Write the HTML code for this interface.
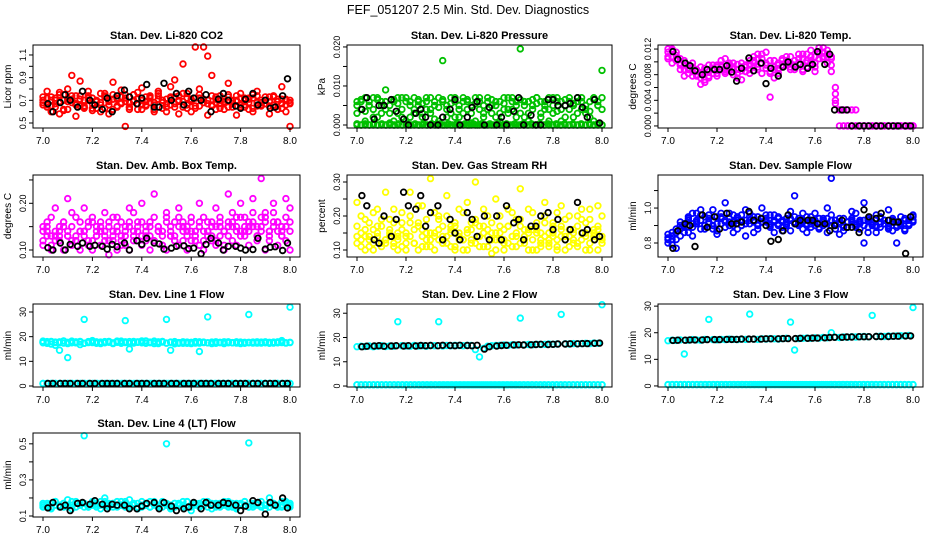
<!DOCTYPE html>
<html><head><meta charset="utf-8"><style>
html,body{margin:0;padding:0;background:#fff;}
svg{display:block;font-family:"Liberation Sans",sans-serif;}
</style></head><body>
<svg id="chart" width="936" height="540">
<text x="468" y="14" text-anchor="middle" font-size="12.5">FEF_051207  2.5 Min. Std. Dev. Diagnostics</text>
</svg>
<script>
// ---- shared data ----
const xTicks = [7.0,7.2,7.4,7.6,7.8,8.0];
const blackX = [7.02,7.04,7.07,7.09,7.11,7.14,7.16,7.19,7.21,7.24,7.26,7.28,7.30,7.33,7.35,7.38,7.40,7.42,7.45,7.47,7.49,7.52,7.54,7.57,7.59,7.61,7.64,7.66,7.68,7.71,7.73,7.75,7.78,7.80,7.82,7.85,7.87,7.90,7.92,7.94,7.97,7.99];
// CO2
const co2A = [0.66,0.78,0.60,0.72,0.58,0.70,0.80,0.92,0.56,0.87,0.64,0.74,0.61,0.69,0.76,0.63,0.58,0.86,0.71,0.79,0.47,0.68,0.75,0.62,0.81,0.66,0.73,0.60,0.78,0.70,0.64,0.82,0.88,0.58,1.02,0.72,0.60,1.17,0.80,1.17,0.57,0.92,0.68,0.74,0.62,0.85,0.70,0.57,0.76,0.64,0.72,0.60,0.78,0.66,0.70,0.58,0.74,0.62,0.82,0.60,0.47];
const co2B = [0.70,0.66,0.73,0.64,0.69,0.75,0.62,0.71,0.67,0.74,0.65,0.70,0.72,0.63,0.68,0.76,0.66,0.71,0.64,0.73,0.69,0.62,0.75,0.67,0.70,0.65,0.72,0.68,0.74,0.63,0.71,0.66,0.73,0.69,0.64,0.76,0.70,0.65,0.72,0.68,1.09,0.66,0.71,0.63,0.69,0.73,0.67,0.70,0.64,0.72,0.68,0.75,0.65,0.70,0.67,0.73,0.64,0.69,0.71,0.66,0.68];
const co2C = [0.68,0.72,0.65,0.70,0.77,0.61,0.69,0.74,0.66,0.71,0.63,0.78,0.67,0.70,0.60,0.73,0.69,0.75,0.65,0.68,0.72,0.64,0.70,0.77,0.62,0.69,0.74,0.66,0.71,0.68,0.60,0.73,0.67,0.70,0.76,0.63,0.69,0.72,0.65,0.71,0.67,0.74,0.62,0.70,0.68,0.75,0.64,0.69,0.72,0.66,0.71,0.63,0.74,0.68,0.70,0.65,0.73,0.69,0.67,0.71,0.70];
const co2D = [0.73,0.64,0.70,0.67,0.75,0.62,0.71,0.68,0.74,0.65,0.70,0.72,0.63,0.69,0.66,0.74,0.70,0.62,0.72,0.67,0.75,0.64,0.69,0.71,0.66,0.73,0.68,0.62,0.76,0.70,0.67,0.72,0.64,0.74,0.69,0.66,0.71,0.63,0.75,0.68,0.70,0.65,0.73,0.67,0.71,0.64,0.69,0.74,0.66,0.70,0.62,0.72,0.68,0.65,0.73,0.69,0.66,0.71,0.63,0.70,0.67];
const co2K = [0.67,0.60,0.68,0.75,0.70,0.64,0.78,0.70,0.66,0.62,0.72,0.60,0.74,0.79,0.73,0.67,0.72,0.84,0.64,0.64,0.85,0.70,0.76,0.66,0.78,0.72,0.70,0.75,0.60,0.71,0.76,0.70,0.65,0.63,0.71,0.76,0.66,0.70,0.63,0.64,0.74,0.89];
// Pressure
const presA = [0,0,0,0,0,0,0,0,0,0,0,0,0,0,0,0,0,0,0,0,0,0,0,0,0,0,0,0,0,0,0,0,0,0,0,0,0,0,0,0,0,0,0,0,0,0,0,0,0,0,0,0,0,0,0,0,0,0,0,0,0];
const presE = [0.0003,0,0.0003,0,0.0003,0,0.0003,0,0.0003,0,0.0003,0,0.0003,0,0.0003,0,0.0003,0,0.0003,0,0.0003,0,0.0003,0,0.0003,0,0.0003,0,0.0003,0,0.0003,0,0.0003,0,0.0003,0,0.0003,0,0.0003,0,0.0003,0,0.0003,0,0.0003,0,0.0003,0,0.0003,0,0.0003,0,0.0003,0,0.0003,0,0.0003,0,0.0003,0];
const presB = [0.006,0.004,0.007,0.005,0.002,0.0065,0.003,0.009,0.005,0.001,0.007,0.004,0.006,0.002,0.007,0.005,0.003,0.006,0.004,0.0015,0.007,0.0165,0.005,0.003,0.006,0.002,0.007,0.004,0.005,0.001,0.006,0.003,0.007,0.005,0.002,0.006,0.004,0.003,0.007,0.005,0.0195,0.002,0.006,0.004,0.007,0.003,0.005,0.001,0.007,0.006,0.004,0.002,0.007,0.005,0.003,0.006,0.004,0.002,0.007,0.005,0.014];
const presC = [0.003,0.006,0.001,0.005,0.007,0.002,0.006,0.004,0.0005,0.006,0.003,0.007,0.001,0.005,0.004,0.006,0.002,0.007,0.003,0.005,0.001,0.006,0.004,0.007,0.002,0.005,0.003,0.006,0.0005,0.007,0.004,0.002,0.006,0.003,0.005,0.001,0.007,0.004,0.006,0.002,0.003,0.006,0.001,0.005,0.007,0.002,0.006,0.004,0.003,0.007,0.001,0.005,0.006,0.002,0.007,0.004,0.003,0.006,0.001,0.005,0.004];
const presD = [0.005,0.0065,0.0035,0.006,0.004,0.007,0.005,0.006,0.003,0.0065,0.0055,0.002,0.007,0.006,0.003,0.0065,0.0055,0.004,0.007,0.006,0.0045,0.0065,0.002,0.0055,0.007,0.004,0.006,0.0065,0.003,0.0055,0.007,0.005,0.004,0.0065,0.006,0.003,0.0055,0.007,0.004,0.006,0.0065,0.005,0.003,0.0065,0.0055,0.006,0.004,0.007,0.005,0.0035,0.006,0.0065,0.004,0.0055,0.006,0.007,0.005,0.0035,0.0065,0.006,0.007];
const presK = [0.004,0.007,0.0015,0.005,0.005,0.0065,0.0035,0.0015,0,0.003,0.004,0.002,0,0,0.002,0.004,0.0065,0,0.002,0.0045,0.006,0,0.0045,0,0.002,0,0.0035,0.007,0,0.0025,0,0,0.0065,0.0065,0.005,0.005,0.0055,0.007,0.0045,0.002,0.0065,0.0005];
// Li-820 temp
const tempA = [0.0115,0.012,0.011,0.0105,0.0095,0.009,0.0085,0.008,0.0075,0.0068,0.0085,0.009,0.0095,0.0088,0.0105,0.0095,0.008,0.0088,0.0092,0.0085,0.0102,0.0098,0.0112,0.0105,0.009,0.0085,0.0075,0.0095,0.0102,0.0098,0.0108,0.0095,0.0112,0.0105,0.0092,0.0118,0.0108,0.0122,0.0115,0.0118,0.0085,0.005,0.0025,0.0025,0.0025,0.0025,0.0025,0,0,0,0,0,0,0,0,0,0,0,0,0,0];
const tempB = [0.0105,0.0108,0.0115,0.0095,0.0102,0.0088,0.0098,0.0078,0.0092,0.0082,0.0075,0.0095,0.0082,0.0102,0.0088,0.0092,0.0098,0.0082,0.0072,0.0095,0.0088,0.0108,0.0092,0.0098,0.0115,0.0082,0.0102,0.0088,0.0095,0.0108,0.0092,0.0102,0.0098,0.0088,0.0112,0.0098,0.0092,0.0105,0.0122,0.0108,0.0095,0.0035,0,0,0,0,0,0,0,0,0,0,0,0,0,0,0,0,0,0,0];
const tempC = [0.012,0.0098,0.0105,0.0088,0.0078,0.0082,0.0092,0.0088,0.0065,0.0072,0.0095,0.0082,0.0078,0.0092,0.0085,0.0098,0.0088,0.0075,0.0098,0.0085,0.0095,0.0102,0.0088,0.0082,0.0098,0.0045,0.0092,0.0082,0.0105,0.0095,0.0088,0.0092,0.0105,0.0085,0.0098,0.0102,0.0085,0.0112,0.0105,0.0098,0.0105,0.006,0.0025,0.0025,0,0,0,0,0,0,0,0,0,0,0,0,0,0,0,0,0];
const tempD = [0.0108,0.0118,0.0102,0.0098,0.0088,0.0095,0.0078,0.0085,0.0082,0.0090,0.0078,0.0088,0.0092,0.0095,0.0082,0.0088,0.0092,0.0096,0.0086,0.0092,0.0082,0.0092,0.0105,0.0112,0.0095,0.0102,0.0088,0.0098,0.0092,0.0102,0.0098,0.0088,0.0098,0.0112,0.0102,0.0108,0.0098,0.0115,0.0108,0.0112,0.0108,0.0040,0.0025,0,0,0,0,0,0,0,0,0,0,0,0,0,0,0,0,0,0];
const tempK = [0.0116,0.0104,0.0098,0.0094,0.0086,0.0080,0.0088,0.0088,0.0088,0.0094,0.0084,0.0070,0.0090,0.0106,0.0086,0.0098,0.0066,0.0090,0.0078,0.0092,0.0100,0.0092,0.0096,0.0090,0.0096,0.0116,0.0096,0.0112,0.0025,0.0025,0.0025,0,0,0,0,0,0,0,0,0,0,0];
// Amb box temp
const ambA = [0.14,0.16,0.11,0.19,0.13,0.15,0.21,0.12,0.17,0.14,0.19,0.11,0.16,0.13,0.15,0.18,0.12,0.14,0.17,0.11,0.15,0.19,0.13,0.16,0.20,0.12,0.15,0.22,0.14,0.11,0.18,0.13,0.16,0.19,0.12,0.15,0.17,0.14,0.20,0.12,0.16,0.13,0.19,0.15,0.11,0.22,0.16,0.14,0.20,0.17,0.15,0.21,0.13,0.253,0.18,0.14,0.20,0.16,0.13,0.21,0.19];
const ambB = [0.11,0.13,0.10,0.12,0.14,0.10,0.13,0.11,0.12,0.10,0.14,0.12,0.10,0.13,0.11,0.14,0.09,0.12,0.10,0.13,0.11,0.10,0.14,0.12,0.11,0.13,0.10,0.12,0.14,0.11,0.10,0.13,0.12,0.11,0.14,0.10,0.12,0.13,0.11,0.10,0.14,0.12,0.11,0.13,0.10,0.15,0.12,0.11,0.14,0.13,0.11,0.15,0.12,0.14,0.10,0.13,0.15,0.11,0.14,0.12,0.10];
const ambC = [0.15,0.14,0.17,0.13,0.15,0.16,0.14,0.18,0.13,0.16,0.14,0.15,0.17,0.14,0.16,0.13,0.15,0.17,0.14,0.16,0.13,0.15,0.18,0.14,0.16,0.15,0.13,0.17,0.15,0.14,0.16,0.15,0.13,0.17,0.15,0.14,0.16,0.13,0.15,0.17,0.14,0.16,0.15,0.17,0.14,0.16,0.18,0.15,0.17,0.14,0.16,0.18,0.15,0.17,0.16,0.14,0.18,0.16,0.15,0.17,0.16];
const ambD = [0.12,0.15,0.13,0.14,0.12,0.16,0.13,0.15,0.12,0.14,0.13,0.16,0.12,0.15,0.14,0.12,0.16,0.13,0.15,0.12,0.14,0.16,0.12,0.15,0.13,0.14,0.16,0.12,0.15,0.13,0.17,0.14,0.12,0.15,0.16,0.13,0.14,0.12,0.16,0.14,0.13,0.15,0.12,0.16,0.14,0.13,0.15,0.17,0.13,0.15,0.14,0.16,0.13,0.15,0.17,0.12,0.16,0.14,0.13,0.15,0.14];
const ambK = [0.105,0.100,0.115,0.100,0.112,0.108,0.115,0.108,0.110,0.108,0.102,0.112,0.107,0.115,0.100,0.120,0.112,0.125,0.115,0.113,0.102,0.104,0.108,0.109,0.103,0.104,0.092,0.112,0.125,0.115,0.100,0.108,0.108,0.104,0.100,0.101,0.125,0.102,0.106,0.107,0.099,0.115];
// Gas stream RH
const rhA = [0.24,0.13,0.19,0.11,0.16,0.22,0.12,0.27,0.14,0.18,0.10,0.21,0.15,0.27,0.12,0.17,0.23,0.11,0.31,0.14,0.19,0.12,0.26,0.16,0.10,0.22,0.13,0.24,0.18,0.30,0.11,0.15,0.20,0.13,0.25,0.17,0.10,0.22,0.14,0.19,0.28,0.12,0.16,0.21,0.10,0.15,0.24,0.13,0.18,0.11,0.23,0.14,0.20,0.12,0.17,0.22,0.10,0.19,0.15,0.23,0.13];
const rhB = [0.12,0.15,0.10,0.14,0.12,0.17,0.11,0.13,0.19,0.12,0.15,0.11,0.14,0.18,0.12,0.10,0.16,0.13,0.11,0.15,0.20,0.12,0.14,0.11,0.17,0.13,0.10,0.15,0.12,0.18,0.14,0.11,0.16,0.09,0.13,0.15,0.12,0.17,0.11,0.14,0.12,0.16,0.10,0.13,0.15,0.11,0.18,0.12,0.14,0.10,0.16,0.13,0.11,0.15,0.12,0.19,0.14,0.10,0.13,0.16,0.12];
const rhC = [0.17,0.20,0.14,0.18,0.21,0.15,0.19,0.13,0.16,0.22,0.14,0.18,0.12,0.20,0.16,0.23,0.14,0.19,0.15,0.21,0.13,0.17,0.20,0.15,0.18,0.14,0.21,0.16,0.13,0.19,0.17,0.22,0.14,0.18,0.15,0.20,0.13,0.17,0.21,0.15,0.19,0.14,0.22,0.16,0.18,0.13,0.20,0.15,0.17,0.21,0.14,0.19,0.16,0.13,0.20,0.15,0.18,0.22,0.14,0.17,0.20];
const rhD = [0.14,0.11,0.16,0.13,0.10,0.14,0.17,0.12,0.15,0.11,0.13,0.16,0.10,0.14,0.12,0.18,0.11,0.15,0.13,0.10,0.16,0.14,0.12,0.17,0.11,0.15,0.13,0.10,0.16,0.12,0.14,0.17,0.11,0.15,0.10,0.13,0.16,0.12,0.14,0.11,0.17,0.13,0.15,0.10,0.16,0.12,0.14,0.11,0.15,0.13,0.17,0.10,0.14,0.16,0.11,0.13,0.15,0.12,0.16,0.10,0.14];
const rhK = [0.26,0.23,0.13,0.12,0.20,0.14,0.19,0.27,0.23,0.22,0.26,0.17,0.21,0.23,0.13,0.19,0.15,0.13,0.21,0.19,0.14,0.20,0.13,0.20,0.13,0.23,0.18,0.19,0.13,0.17,0.17,0.20,0.21,0.16,0.19,0.13,0.16,0.24,0.15,0.16,0.13,0.14];
// Sample flow
const flowA = [0.80,0.84,0.82,0.88,0.90,0.86,0.97,0.92,0.88,0.95,0.91,0.99,0.87,0.94,1.03,0.90,0.96,0.88,0.93,0.99,0.91,0.86,0.95,1.00,0.92,0.89,0.96,0.91,0.87,0.94,0.98,1.07,0.92,0.88,0.95,0.91,0.97,0.89,0.93,1.00,1.17,0.90,0.94,0.87,0.92,0.98,0.89,0.93,1.03,0.86,0.91,0.96,0.89,0.93,0.99,0.87,0.92,0.95,0.88,0.91,0.95];
const flowB = [0.83,0.79,0.86,0.84,0.91,0.94,0.89,0.93,0.96,0.90,0.92,0.88,0.95,0.91,0.93,0.97,0.92,0.94,0.90,0.93,0.95,0.92,0.91,0.94,0.93,0.96,0.92,0.90,0.93,0.91,0.94,0.92,0.90,0.93,0.91,0.89,0.92,0.94,0.90,0.91,0.93,0.88,0.92,0.90,0.89,0.93,0.91,0.92,0.90,0.94,0.92,0.89,0.91,0.93,0.90,0.92,0.89,0.91,0.93,0.90,0.92];
const flowC = [0.85,0.82,0.77,0.90,0.86,0.93,0.84,0.91,0.99,0.88,0.94,0.90,0.85,0.97,0.89,0.92,0.86,0.95,0.90,0.84,0.97,0.93,0.88,0.92,0.96,0.90,0.86,0.94,0.89,0.92,0.87,0.95,0.91,0.97,0.86,0.93,0.90,0.88,0.94,0.86,0.96,0.91,0.85,0.94,0.89,0.92,0.97,0.88,0.80,0.93,0.90,0.86,0.95,0.91,0.88,0.94,0.80,0.90,0.87,0.93,0.96];
const flowD = [0.82,0.86,0.88,0.92,0.89,0.95,0.91,0.97,0.93,0.90,0.96,0.93,0.91,0.95,0.92,0.94,0.90,0.93,0.96,0.91,0.93,0.95,0.90,0.92,0.94,0.91,0.93,0.95,0.92,0.90,0.93,0.91,0.94,0.92,0.90,0.95,0.93,0.91,0.92,0.94,0.90,0.93,0.91,0.89,0.92,0.94,0.90,0.91,0.93,0.89,0.92,0.90,0.94,0.91,0.89,0.93,0.90,0.92,0.94,0.91,0.93];
const flowK = [0.77,0.87,0.91,0.90,0.78,0.96,0.89,0.95,0.88,0.97,0.91,0.91,0.92,0.98,0.93,0.94,0.90,0.81,0.82,0.87,0.96,0.91,0.93,0.93,0.93,0.91,0.91,0.87,0.90,0.93,0.89,0.89,0.86,0.99,0.95,0.94,0.97,0.93,0.92,0.92,0.74,0.95];
// Line 1
const l1A = [17.5,18,17,17.8,14.5,18.2,11.5,17.5,17.9,16.8,27,17.6,18.1,17.3,17.8,17.5,18,17.2,17.7,18.2,26.5,15,17.6,17.9,18.3,17.5,17.8,17.2,17.9,18.1,27,14.5,17.6,17.3,17.8,17.5,17.2,17.9,14,17.6,28,17.4,17.8,17.6,17.2,17.9,17.5,17.8,17.6,17.3,29,17.6,17.9,17.4,17.7,17.5,17.8,17.6,18.4,17.5,32];
const l1B = [18.2,17.4,17.9,16.5,17.6,18.3,17.2,17.8,17.5,18.1,17.3,17.7,18.4,17.6,17.2,18,17.7,17.4,18.2,17.6,17.9,17.3,18.1,17.7,17.5,18.3,17.6,17.9,17.2,18,17.4,17.8,17.1,17.6,17.9,17.3,17.7,18,17.4,17.8,17.5,17.2,17.9,17.6,17.3,17.8,17.5,17.9,17.2,17.7,17.5,17.8,17.4,17.6,17.9,17.3,17.7,17.5,18,17.4,17.6];
const l1C = [17.8,17.3,18.1,17.6,17.9,17.4,17.7,18.2,17.5,17.8,17.3,18,17.6,17.9,17.4,17.7,18.1,17.5,17.8,17.3,17.6,18,17.4,17.7,17.9,17.3,17.6,18.2,17.5,17.8,17.4,17.7,18,17.5,17.3,17.8,17.6,17.4,17.9,17.7,17.5,17.8,17.3,17.7,17.9,17.5,17.6,17.4,17.8,17.5,17.7,17.4,17.6,17.8,17.5,17.7,17.4,17.9,17.6,17.5,17.7];
const l1Base = [1,1,1,1,1,1,1,1,1,1,1,1,1,1,1,1,1,1,1,1,1,1,1,1,1,1,1,1,1,1,1,1,1,1,1,1,1,1,1,1,1,1,1,1,1,1,1,1,1,1,1,1,1,1,1,1,1,1,1,1,1];
const l1Base2 = [1,1,1,1,1,1,1,1,1,1,1,1,1,1,1,1,1,1,1,1,1,1,1,1,1,1,1,1,1,1,1,1,1,1,1,1,1,1,1,1,1,1,1,1,1,1,1,1,1,1,1,1,1,1,1,1,1,1,1,1];
const l1K = [1,1,1,1,1,1,1,1,1,1,1,1,1,1,1,1,1,1,1,1,1,1,1,1,1,1,1,1,1,1,1,1,1,1,1,1,1,1,1,1,1,1];
// Line 2
const l2A = [16.2,16.4,16.3,16.5,16.2,16.4,16.6,16.3,16.5,16.4,26.5,16.6,16.5,16.4,16.7,16.5,16.6,16.4,16.7,16.6,26.5,16.5,16.7,16.6,16.8,16.7,16.6,16.8,16.7,15,12,15.5,16.4,16.6,16.7,16.8,16.9,16.8,17,16.9,28,17,17.1,17,17.2,17.1,17.2,17.3,17.2,17.3,29.5,17.4,17.3,17.5,17.4,17.5,17.6,17.5,17.7,17.6,33.5];
const l2Base = [0.5,0.5,0.5,0.5,0.5,0.5,0.5,0.5,0.5,0.5,0.5,0.5,0.5,0.5,0.5,0.5,0.5,0.5,0.5,0.5,0.5,0.5,0.5,0.5,0.5,0.5,0.5,0.5,0.5,0.5,0.5,0.5,0.5,0.5,0.5,0.5,0.5,0.5,0.5,0.5,0.5,0.5,0.5,0.5,0.5,0.5,0.5,0.5,0.5,0.5,0.5,0.5,0.5,0.5,0.5,0.5,0.5,0.5,0.5,0.5,0.5];
const l2Base2 = [0.5,0.5,0.5,0.5,0.5,0.5,0.5,0.5,0.5,0.5,0.5,0.5,0.5,0.5,0.5,0.5,0.5,0.5,0.5,0.5,0.5,0.5,0.5,0.5,0.5,0.5,0.5,0.5,0.5,0.5,0.5,0.5,0.5,0.5,0.5,0.5,0.5,0.5,0.5,0.5,0.5,0.5,0.5,0.5,0.5,0.5,0.5,0.5,0.5,0.5,0.5,0.5,0.5,0.5,0.5,0.5,0.5,0.5,0.5,0.5];
const l2K = [16.2,16.4,16.5,16.6,16.4,16.5,16.6,16.5,16.6,16.5,16.7,16.6,16.7,16.6,16.8,16.7,16.6,16.8,16.7,16.6,16.8,15.2,16.2,16.5,16.7,16.8,16.9,17,16.9,17,17.1,17.2,17.1,17.2,17.3,17.3,17.4,17.4,17.5,17.5,17.6,17.7];
// Line 3
const l3A = [17,17.2,17.1,17.3,12,17.2,17.4,17.3,17.2,17.5,25,17.4,17.3,17.5,17.4,17.6,17.5,17.4,17.6,17.5,27,17.6,17.5,17.7,17.6,17.8,17.7,17.6,17.8,17.9,24,13.5,17.8,17.9,18,17.9,18.1,18,18.2,18.1,20,18.3,18.2,18.4,18.3,18.5,18.4,18.5,18.6,18.5,26.5,18.6,18.7,18.6,18.8,18.7,18.8,18.9,18.8,19,29.5];
const l3K = [17.1,17.2,17.2,17.3,17.3,17.3,17.4,17.4,17.4,17.5,17.5,17.5,17.6,17.6,17.6,17.6,17.7,17.7,17.7,17.8,17.8,17.8,17.9,17.9,18,18,18.1,18.2,18.3,18.3,18.4,18.4,18.5,18.5,18.5,18.6,18.6,18.6,18.7,18.7,18.8,18.8];
// Line 4
const l4A = [0.15,0.17,0.14,0.18,0.16,0.15,0.19,0.14,0.17,0.16,0.545,0.15,0.18,0.16,0.14,0.20,0.17,0.15,0.18,0.16,0.15,0.19,0.17,0.14,0.18,0.16,0.15,0.17,0.16,0.18,0.50,0.14,0.17,0.16,0.15,0.18,0.13,0.17,0.16,0.18,0.15,0.14,0.17,0.16,0.18,0.15,0.17,0.14,0.16,0.18,0.505,0.15,0.17,0.16,0.14,0.20,0.17,0.15,0.16,0.18,0.15];
const l4B = [0.16,0.15,0.17,0.16,0.15,0.17,0.16,0.18,0.15,0.16,0.17,0.15,0.16,0.17,0.18,0.16,0.15,0.17,0.16,0.18,0.17,0.15,0.16,0.17,0.15,0.16,0.18,0.16,0.15,0.17,0.16,0.15,0.17,0.16,0.18,0.15,0.16,0.17,0.15,0.16,0.17,0.16,0.15,0.17,0.16,0.18,0.16,0.15,0.17,0.16,0.15,0.17,0.16,0.18,0.16,0.15,0.17,0.16,0.15,0.17,0.16];
const l4C = [0.17,0.16,0.15,0.18,0.16,0.17,0.15,0.16,0.18,0.17,0.15,0.16,0.17,0.15,0.16,0.18,0.16,0.17,0.15,0.16,0.18,0.16,0.17,0.15,0.16,0.17,0.15,0.18,0.16,0.15,0.17,0.16,0.15,0.17,0.16,0.18,0.15,0.16,0.17,0.16,0.18,0.17,0.16,0.15,0.17,0.16,0.15,0.17,0.16,0.18,0.15,0.16,0.17,0.15,0.16,0.17,0.16,0.15,0.18,0.16,0.17];
const l4K = [0.145,0.175,0.15,0.16,0.13,0.17,0.175,0.165,0.185,0.165,0.14,0.165,0.16,0.16,0.14,0.14,0.155,0.17,0.175,0.14,0.175,0.155,0.13,0.14,0.15,0.175,0.14,0.175,0.16,0.16,0.175,0.17,0.16,0.13,0.155,0.185,0.175,0.11,0.175,0.16,0.20,0.145];

const NS = "http://www.w3.org/2000/svg";
const svg = document.getElementById('chart');
function mk(tag, attrs, parent){const e=document.createElementNS(NS,tag);for(const k in attrs)e.setAttribute(k,attrs[k]);(parent||svg).appendChild(e);return e;}

const cols = [[33,300],[347,612],[658,923]];
const rows = [[45,128],[175,257],[304,387],[433,517]];

const panels = [
 {name:'co2',title:'Stan. Dev. Li-820 CO2',ylab:'Licor ppm',c:0,r:0,ylim:[0.456,1.188],ticks:[0.5,0.6,0.7,0.8,0.9,1.0,1.1],labels:[0.5,0.7,0.9,1.1],fmt:1,color:'#ff0000',series:[co2B,co2C,co2D,co2A],black:co2K},
 {name:'pressure',title:'Stan. Dev. Li-820 Pressure',ylab:'kPa',c:1,r:0,ylim:[-0.00077,0.0205],ticks:[0,0.005,0.01,0.015,0.02],labels:[0,0.01,0.02],fmt:3,color:'#00c000',series:[presA,presE,presC,presD,presB],black:presK},
 {name:'li820-temp',title:'Stan. Dev. Li-820 Temp.',ylab:'degrees C',c:2,r:0,ylim:[-0.00032,0.01263],ticks:[0,0.002,0.004,0.006,0.008,0.01,0.012],labels:[0,0.004,0.008,0.012],fmt:3,color:'#ff00ff',series:[tempB,tempC,tempD,tempA],black:tempK},
 {name:'amb-temp',title:'Stan. Dev. Amb. Box Temp.',ylab:'degrees C',c:0,r:1,ylim:[0.085,0.2606],ticks:[0.1,0.15,0.2,0.25],labels:[0.1,0.2],fmt:2,color:'#ff00ff',series:[ambB,ambC,ambD,ambA],black:ambK},
 {name:'gas-rh',title:'Stan. Dev. Gas Stream RH',ylab:'percent',c:1,r:1,ylim:[0.0794,0.3206],ticks:[0.1,0.15,0.2,0.25,0.3],labels:[0.1,0.2,0.3],fmt:2,color:'#ffff00',series:[rhB,rhC,rhD,rhA],black:rhK},
 {name:'sample-flow',title:'Stan. Dev. Sample Flow',ylab:'ml/min',c:2,r:1,ylim:[0.72,1.189],ticks:[0.8,0.9,1.0,1.1],labels:[0.8,1.0],fmt:1,color:'#0000ff',series:[flowB,flowC,flowD,flowA],black:flowK},
 {name:'line1-flow',title:'Stan. Dev. Line 1 Flow',ylab:'ml/min',c:0,r:2,ylim:[-0.4,33.24],ticks:[0,10,20,30],labels:[0,10,20,30],fmt:0,color:'#00ffff',series:[l1Base,l1Base2,l1B,l1C,l1A],black:l1K},
 {name:'line2-flow',title:'Stan. Dev. Line 2 Flow',ylab:'ml/min',c:1,r:2,ylim:[-0.4,33.8],ticks:[0,10,20,30],labels:[0,10,20,30],fmt:0,color:'#00ffff',series:[l2Base,l2Base2,l2A],black:l2K},
 {name:'line3-flow',title:'Stan. Dev. Line 3 Flow',ylab:'ml/min',c:2,r:2,ylim:[-0.4,30.8],ticks:[0,10,20,30],labels:[0,10,20,30],fmt:0,color:'#00ffff',series:[l2Base,l2Base2,l3A],black:l3K},
 {name:'line4-flow',title:'Stan. Dev. Line 4 (LT) Flow',ylab:'ml/min',c:0,r:3,ylim:[0.0945,0.56],ticks:[0.1,0.2,0.3,0.4,0.5],labels:[0.1,0.3,0.5],fmt:1,color:'#00ffff',series:[l4B,l4C,l4A],black:l4K}
];

panels.forEach(p=>{
  const [L,R]=cols[p.c], [T,B]=rows[p.r];
  const x0=L+10, x1=R-10;
  const xs = v => x0+(v-7)/(1)*(x1-x0);
  const ys = v => B-(v-p.ylim[0])/(p.ylim[1]-p.ylim[0])*(B-T);
  const g = mk('g',{});
  
  
  const t = mk('text',{x:(L+R)/2,y:T-6,'text-anchor':'middle','font-size':'11','font-weight':'bold'},g);
  t.textContent=p.title;
  
  
  const pts = mk('g',{fill:'none','stroke-width':'1.8'},g);
  
  
  p.series.forEach(arr=>{
    const n=arr.length;
    arr.forEach((v,i)=>{
      const cc=mk('circle',{cx:xs(7+i/(n-1)).toFixed(1),cy:ys(v).toFixed(1),r:'2.8',stroke:p.color},pts);
      
      
    });
  });
  p.black.forEach((v,i)=>{
    const cc=mk('circle',{cx:xs(blackX[i]).toFixed(1),cy:ys(v).toFixed(1),r:'2.8',stroke:'#000'},pts);
    
    
  });
  const box=mk('rect',{x:L,y:T,width:R-L,height:B-T,fill:'none',stroke:'#000','stroke-width':'1'},g);
  
  
  const xa=mk('g',{},g);
  
  
  mk('line',{x1:xs(7),x2:xs(8),y1:B,y2:B,stroke:'#000'},xa);
  xTicks.forEach(v=>{
    mk('line',{x1:xs(v),x2:xs(v),y1:B,y2:B+4,stroke:'#000'},xa);
    const tx=mk('text',{x:xs(v),y:B+16,'text-anchor':'middle','font-size':'10'},xa);
    tx.textContent=v.toFixed(1);
    
    
  });
  const ya=mk('g',{},g);
  
  
  const tmin=p.ticks[0], tmax=p.ticks[p.ticks.length-1];
  mk('line',{x1:L,x2:L,y1:ys(tmin),y2:ys(tmax),stroke:'#000'},ya);
  p.ticks.forEach(v=>{ mk('line',{x1:L-4,x2:L,y1:ys(v),y2:ys(v),stroke:'#000'},ya); });
  p.labels.forEach(v=>{
    const yy=ys(v);
    const tx=mk('text',{x:L-7,y:yy,'text-anchor':'middle','font-size':'9',transform:`rotate(-90 ${L-7} ${yy})`},ya);
    tx.textContent=v.toFixed(p.fmt);
    
    
  });
  const yl=mk('text',{x:L-22,y:(T+B)/2,'text-anchor':'middle','font-size':'10',transform:`rotate(-90 ${L-22} ${(T+B)/2})`},ya);
  yl.textContent=p.ylab;
  
  
});
</script>
</body></html>
